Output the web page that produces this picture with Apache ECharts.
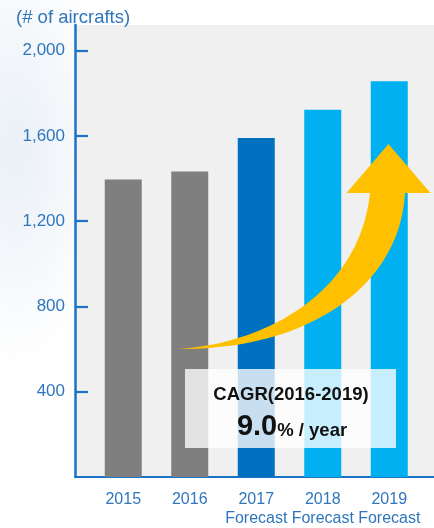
<!DOCTYPE html>
<html>
<head>
<meta charset="utf-8">
<script src="https://cdn.jsdelivr.net/npm/echarts@6/dist/echarts.min.js"></script>
<style>
  html, body { margin: 0; padding: 0; }
  body {
    width: 434px; height: 528px; overflow: hidden;
    background: radial-gradient(ellipse 100px 220px at 15px 150px, #eaf0f7 0%, #f5f8fb 55%, #ffffff 100%);
  }
  #chart { width: 434px; height: 528px; }
</style>
</head>
<body>
<div id="chart"></div>
<script>
// Annual aircraft deliveries, actual and forecast
const years = ['2015', '2016', '2017\nForecast', '2018\nForecast', '2019\nForecast'];
const aircraft = [1395, 1433, 1590, 1723, 1856];
const barColors = ['#7f7f7f', '#7f7f7f', '#0070c0', '#00b0f0', '#00b0f0'];
const yTicks = [400, 800, 1200, 1600, 2000];
const yMax = 2120;
const cagrTitle = 'CAGR(2016-2019)';
const cagrValue = '9.0';
const cagrUnit = '% / year';

const FONT = '"Liberation Sans", Arial, sans-serif';
const BLUE_TEXT = '#2f76bd';
const AXIS_BLUE = '#1a73c4';

// sample a cubic Bezier into points for the arrow outline
function cubic(p0, p1, p2, p3, n) {
  const pts = [];
  for (let i = 1; i <= n; i++) {
    const t = i / n, u = 1 - t;
    pts.push([
      u * u * u * p0[0] + 3 * u * u * t * p1[0] + 3 * u * t * t * p2[0] + t * t * t * p3[0],
      u * u * u * p0[1] + 3 * u * u * t * p1[1] + 3 * u * t * t * p2[1] + t * t * t * p3[1]
    ]);
  }
  return pts;
}
const tail = [178, 349];
const arrowOutline = [tail]
  .concat(cubic(tail, [270, 343], [360, 290], [370, 193], 40))
  .concat([[346.5, 193], [388.5, 144], [430.5, 193], [405, 193]])
  .concat(cubic([405, 193], [400, 285], [310, 350], tail, 40));

const chart = echarts.init(document.getElementById('chart'), null, { renderer: 'canvas' });

chart.setOption({
  animation: false,
  textStyle: { fontFamily: FONT },
  title: {
    text: '(# of aircrafts)',
    left: 11,
    top: 3,
    textStyle: { fontFamily: FONT, fontSize: 18.5, fontWeight: 'normal', color: BLUE_TEXT }
  },
  grid: [
    // frame: grey plotting panel with the axes
    { left: 75, right: 0, top: 25, bottom: 51, show: true, backgroundColor: '#f0f0f0', borderWidth: 0 },
    // bars
    { left: 90, right: 11.5, top: 25, bottom: 51 }
  ],
  xAxis: [
    {
      gridIndex: 0, type: 'category', data: [''],
      axisLine: { show: true, lineStyle: { color: AXIS_BLUE, width: 2.2 } },
      axisTick: { show: false }, axisLabel: { show: false }, splitLine: { show: false }
    },
    {
      gridIndex: 1, type: 'category', data: years,
      axisLine: { show: false }, axisTick: { show: false },
      axisLabel: { interval: 0, hideOverlap: false, color: BLUE_TEXT, fontSize: 16, lineHeight: 19,
                   margin: 13, fontFamily: FONT }
    }
  ],
  yAxis: [
    {
      gridIndex: 0, type: 'value', min: 0, max: yMax,
      axisLine: { show: true, lineStyle: { color: AXIS_BLUE, width: 2.5 } },
      axisTick: { show: true, inside: true, length: 13, customValues: yTicks,
                  lineStyle: { color: AXIS_BLUE, width: 2.2 } },
      axisLabel: {
        customValues: yTicks, color: BLUE_TEXT, fontSize: 17, margin: 10, fontFamily: FONT,
        formatter: v => v.toLocaleString('en-US')
      },
      splitLine: { show: false }
    },
    {
      gridIndex: 1, type: 'value', min: 0, max: yMax,
      axisLine: { show: false }, axisTick: { show: false }, axisLabel: { show: false },
      splitLine: { show: false }
    }
  ],
  series: [{
    type: 'bar',
    xAxisIndex: 1, yAxisIndex: 1,
    barWidth: 37,
    data: aircraft.map((v, i) => ({ value: v, itemStyle: { color: barColors[i] } }))
  }],
  graphic: [
    {
      // growth arrow
      type: 'polygon',
      z: 10,
      shape: { points: arrowOutline },
      style: { fill: '#ffc000' }
    },
    {
      // translucent CAGR panel
      type: 'rect',
      z: 20,
      shape: { x: 185, y: 369, width: 211, height: 79 },
      style: { fill: 'rgba(255,255,255,0.78)' }
    },
    {
      type: 'text',
      z: 21,
      style: {
        text: cagrTitle, x: 291, y: 395, align: 'center', verticalAlign: 'middle',
        font: 'bold 18.5px ' + FONT, fill: '#111111'
      }
    },
    {
      type: 'text',
      z: 21,
      style: {
        text: '{a|' + cagrValue + '}{b|' + cagrUnit + '}',
        x: 292, y: 427, align: 'center', verticalAlign: 'middle',
        rich: {
          a: { fontSize: 29, fontWeight: 'bold', fontFamily: FONT, fill: '#111111' },
          b: { fontSize: 18.5, fontWeight: 'bold', fontFamily: FONT, fill: '#111111', padding: [7, 0, 0, 0] }
        }
      }
    }
  ]
});
</script>
</body>
</html>
